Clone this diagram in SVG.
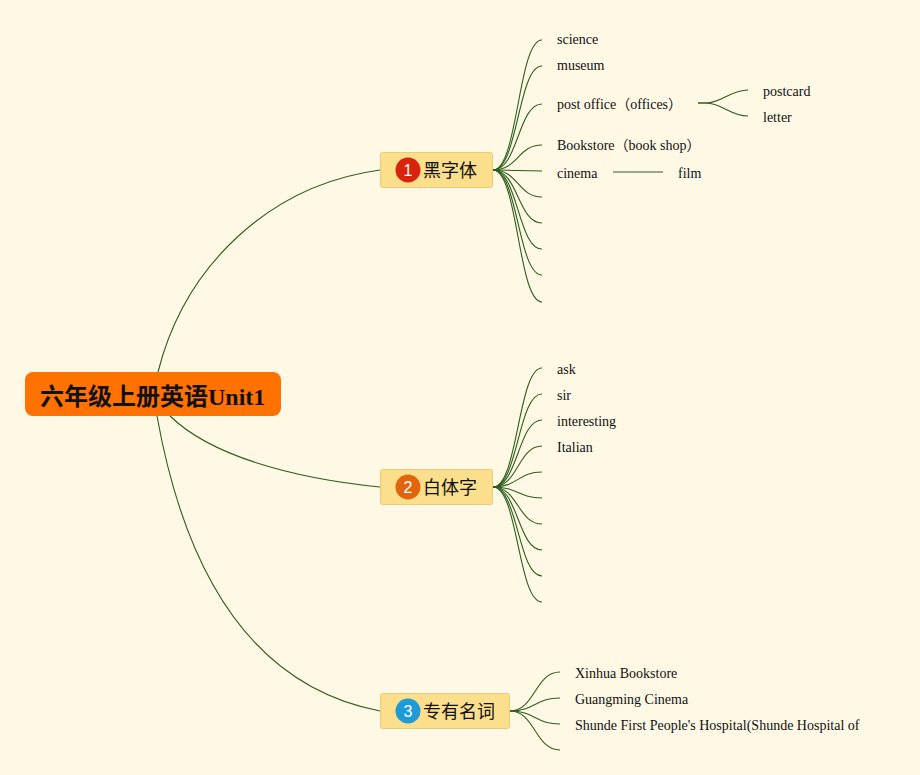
<svg xmlns="http://www.w3.org/2000/svg" width="920" height="775" viewBox="0 0 920 775">
<style>
.bg{fill:#FEF8E5}
.c{fill:none;stroke:#2C5F1E;stroke-width:1.1}
.br{fill:#FBDF8C;stroke:#EACB78;stroke-width:1}
.bt{font-family:"Noto Sans CJK SC",sans-serif;font-size:18px;fill:#111}
.num{font-family:"Liberation Sans",sans-serif;font-size:16px;fill:#fff;text-anchor:middle}
.lt{font-family:"Liberation Serif","Noto Sans CJK SC",serif;font-size:14px;fill:#111}
.rt{font-family:"Liberation Serif","Noto Sans CJK SC",serif;font-size:24px;font-weight:bold;fill:#111}
</style>
<rect class="bg" x="0" y="0" width="920" height="775"/>
<g id="connectors">
<path class="c" d="M158,372 C185,265 270,185 380,170"/>
<path class="c" d="M170,416 C210,455 290,478 380,487"/>
<path class="c" d="M157,416 C190,600 270,690 380,711"/>
<path class="c" d="M493,170 C518,170 518,40 542,40"/>
<path class="c" d="M493,170 C518,170 518,66 542,66"/>
<path class="c" d="M493,170 C518,170 518,104 542,104"/>
<path class="c" d="M493,170 C518,170 518,145 542,145"/>
<path class="c" d="M493,170 C518,170 518,171 542,171"/>
<path class="c" d="M493,170 C518,170 518,197 542,197"/>
<path class="c" d="M493,170 C518,170 518,223 542,223"/>
<path class="c" d="M493,170 C518,170 518,249 542,249"/>
<path class="c" d="M493,170 C518,170 518,275 542,275"/>
<path class="c" d="M493,170 C518,170 518,302 542,302"/>
<path class="c" d="M698,103 L706,103 C722,103 730,90 748,90"/>
<path class="c" d="M698,103 L706,103 C722,103 730,116 748,116"/>
<path class="c" d="M613,172 L663,172"/>
<path class="c" d="M493,487 C518,487 518,368 542,368"/>
<path class="c" d="M493,487 C518,487 518,394 542,394"/>
<path class="c" d="M493,487 C518,487 518,420 542,420"/>
<path class="c" d="M493,487 C518,487 518,446 542,446"/>
<path class="c" d="M493,487 C518,487 518,472 542,472"/>
<path class="c" d="M493,487 C518,487 518,498 542,498"/>
<path class="c" d="M493,487 C518,487 518,524 542,524"/>
<path class="c" d="M493,487 C518,487 518,550 542,550"/>
<path class="c" d="M493,487 C518,487 518,576 542,576"/>
<path class="c" d="M493,487 C518,487 518,602 542,602"/>
<path class="c" d="M510,711 C535,711 535,672 560,672"/>
<path class="c" d="M510,711 C535,711 535,698 560,698"/>
<path class="c" d="M510,711 C535,711 535,724 560,724"/>
<path class="c" d="M510,711 C535,711 535,750 560,750"/>
</g>
<g id="root">
<rect x="25" y="372" width="256" height="44" rx="8" fill="#FF7200"/>
<text class="rt" x="40" y="405">六年级上册英语Unit1</text>
</g>
<g id="n1">
<rect class="br" x="380.5" y="152.5" width="112" height="35" rx="2"/>
<circle cx="408" cy="170" r="12.5" fill="#D8230E"/>
<text class="num" x="408" y="176">1</text>
<text class="bt" x="423" y="177">黑字体</text>
</g>
<g id="n2">
<rect class="br" x="380.5" y="469.5" width="112" height="35" rx="2"/>
<circle cx="408" cy="487" r="12.5" fill="#E2640C"/>
<text class="num" x="408" y="493">2</text>
<text class="bt" x="423" y="494">白体字</text>
</g>
<g id="n3">
<rect class="br" x="380.5" y="693.5" width="129" height="35" rx="2"/>
<circle cx="408" cy="711" r="12.5" fill="#1E9AD6"/>
<text class="num" x="408" y="717">3</text>
<text class="bt" x="423" y="718">专有名词</text>
</g>
<g id="l1"><text class="lt" x="557" y="44">science</text></g>
<g id="l2"><text class="lt" x="557" y="70">museum</text></g>
<g id="l3"><text class="lt" x="557" y="109">post office（offices）</text></g>
<g id="l3a"><text class="lt" x="763" y="96">postcard</text></g>
<g id="l3b"><text class="lt" x="763" y="122">letter</text></g>
<g id="l4"><text class="lt" x="557" y="150">Bookstore（book shop）</text></g>
<g id="l5"><text class="lt" x="557" y="178">cinema</text></g>
<g id="l5a"><text class="lt" x="678" y="178">film</text></g>
<g id="m1"><text class="lt" x="557" y="374">ask</text></g>
<g id="m2"><text class="lt" x="557" y="400">sir</text></g>
<g id="m3"><text class="lt" x="557" y="426">interesting</text></g>
<g id="m4"><text class="lt" x="557" y="452">Italian</text></g>
<g id="p1"><text class="lt" x="575" y="678">Xinhua Bookstore</text></g>
<g id="p2"><text class="lt" x="575" y="704">Guangming Cinema</text></g>
<g id="p3"><text class="lt" x="575" y="730">Shunde First People's Hospital(Shunde Hospital of</text></g>
</svg>
